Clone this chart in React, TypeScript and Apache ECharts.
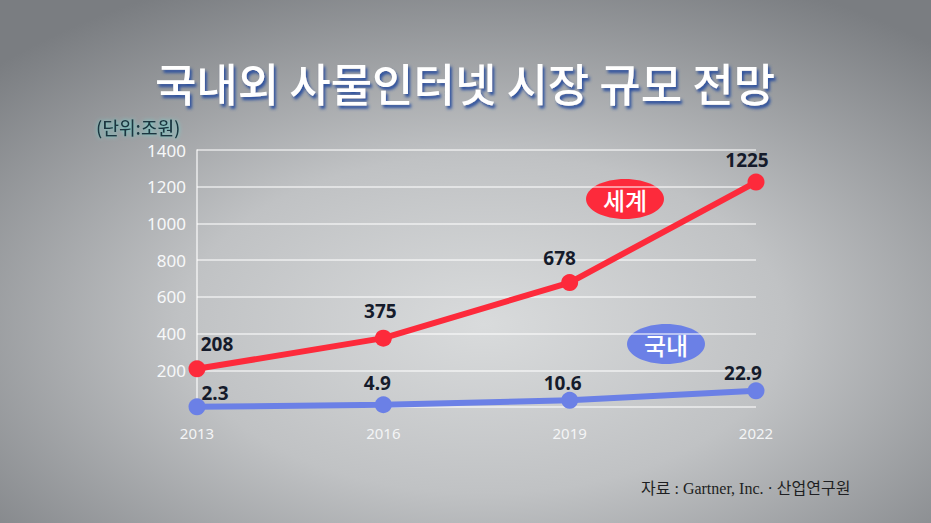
import { useEffect, useRef } from "react";
import * as echarts from "echarts";

const years = ["2013", "2016", "2019", "2022"];
const world = [208, 375, 678, 1225];
const domestic = [2.3, 4.9, 10.6, 22.9];
const yTicks = [0, 200, 400, 600, 800, 1000, 1200, 1400];

// label nudges, px
const worldOffsets = [[20, 5], [-3, 3], [-10, 5], [-9, 8]];
const domesticOffsets = [[18, 10], [-6, 2], [-7, 7], [-13, 6]];

const RED = "#fd2a3b";
const BLUE = "#6b80e6";
const KR = "'Noto Sans CJK KR', 'Noto Sans', sans-serif";

export default function App() {
  const ref = useRef<HTMLDivElement>(null);

  useEffect(() => {
    if (!ref.current) return;
    document.body.style.margin = "0";
    const chart = echarts.init(ref.current, null, { renderer: "svg" });

    const labelStyle = {
      show: true,
      position: "top" as const,
      fontFamily: "'Noto Sans', sans-serif",
      fontWeight: "bold" as const,
      fontSize: 19,
      color: "#151b2b",
    };

    chart.setOption({
      animation: false,
      backgroundColor: {
        type: "radial",
        x: 0.52,
        y: 0.62,
        r: 0.72,
        colorStops: [
          { offset: 0, color: "#d9dbdc" },
          { offset: 0.45, color: "#c0c2c4" },
          { offset: 1, color: "#7a7d81" },
        ],
      },
      grid: { left: 197, right: 175, top: 150, bottom: 116 },
      xAxis: {
        type: "category",
        data: years,
        boundaryGap: false,
        axisLine: { show: false },
        axisTick: { show: false },
        axisLabel: {
          color: "#f4f5f6",
          fontSize: 15,
          fontFamily: "'Noto Sans', sans-serif",
          margin: 18,
        },
      },
      yAxis: [
        {
          type: "value",
          min: yTicks[0],
          max: yTicks[yTicks.length - 1],
          interval: 200,
          axisLine: { show: true, lineStyle: { color: "rgba(255,255,255,0.75)", width: 1.5 } },
          axisTick: { show: false },
          axisLabel: {
            color: "#f7f8f9",
            fontSize: 17,
            fontFamily: "'Noto Sans', sans-serif",
            margin: 11,
            formatter: (v: number) => (v === 0 ? "" : String(v)),
          },
          splitLine: { lineStyle: { color: "rgba(255,255,255,0.7)", width: 1.5 } },
        },
        { type: "value", show: false, min: 2, max: 334 },
      ],
      series: [
        {
          name: "세계",
          type: "line",
          data: world.map((v, i) => ({
            value: v,
            label: { offset: worldOffsets[i] },
          })),
          symbol: "circle",
          symbolSize: 17,
          lineStyle: { color: RED, width: 6 },
          itemStyle: { color: RED },
          label: { ...labelStyle, distance: 12 },
          z: 3,
        },
        {
          name: "국내",
          type: "line",
          yAxisIndex: 1,
          clip: false,
          data: domestic.map((v, i) => ({
            value: v,
            label: { offset: domesticOffsets[i] },
          })),
          symbol: "circle",
          symbolSize: 17,
          lineStyle: { color: BLUE, width: 6 },
          itemStyle: { color: BLUE },
          label: { ...labelStyle, distance: 6 },
          z: 2,
        },
      ],
      graphic: [
        {
          type: "text",
          x: 465,
          y: 82,
          style: {
            text: "국내외 사물인터넷 시장 규모 전망",
            fontFamily: KR,
            fontWeight: 500,
            fontSize: 45,
            fill: "#ffffff",
            align: "center",
            verticalAlign: "middle",
            textShadowColor: "#2c4f9e",
            textShadowOffsetX: 2,
            textShadowOffsetY: 3,
            textShadowBlur: 3,
          },
        },
        {
          type: "text",
          x: 96,
          y: 127,
          style: {
            text: "(단위:조원)",
            fontFamily: KR,
            fontWeight: 500,
            fontSize: 18,
            fill: "#1c3540",
            verticalAlign: "middle",
            textShadowColor: "#6fd8d4",
            textShadowBlur: 4,
          },
        },
        {
          type: "ellipse",
          shape: { cx: 625, cy: 199, rx: 39, ry: 20 },
          style: { fill: RED },
        },
        {
          type: "text",
          x: 625,
          y: 199,
          style: {
            text: "세계",
            fontFamily: KR,
            fontWeight: 500,
            fontSize: 24,
            fill: "#ffffff",
            align: "center",
            verticalAlign: "middle",
          },
        },
        {
          type: "ellipse",
          shape: { cx: 666, cy: 344, rx: 39, ry: 20 },
          style: { fill: BLUE },
        },
        {
          type: "text",
          x: 666,
          y: 344,
          style: {
            text: "국내",
            fontFamily: KR,
            fontWeight: 500,
            fontSize: 24,
            fill: "#ffffff",
            align: "center",
            verticalAlign: "middle",
          },
        },
        {
          type: "text",
          x: 641,
          y: 488,
          style: {
            text: "자료 : Gartner, Inc. · 산업연구원",
            fontFamily: "'Liberation Serif', 'Noto Sans CJK KR', serif",
            fontSize: 16,
            fill: "#1e1f22",
            verticalAlign: "middle",
          },
        },
      ],
    });

    return () => chart.dispose();
  }, []);

  return <div ref={ref} style={{ width: 931, height: 523 }} />;
}
